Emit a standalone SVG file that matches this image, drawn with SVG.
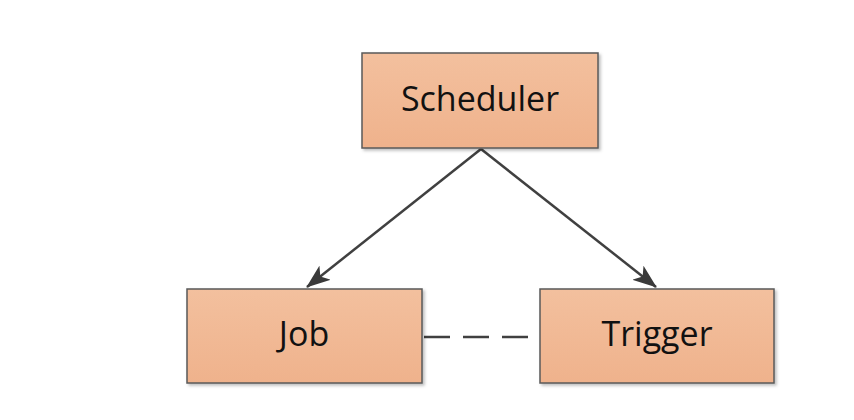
<svg xmlns="http://www.w3.org/2000/svg" width="854" height="420" viewBox="0 0 854 420">
<defs>
<linearGradient id="g" x1="0" y1="0" x2="0" y2="1">
<stop offset="0" stop-color="#F3C09E"/>
<stop offset="1" stop-color="#EFB28C"/>
</linearGradient>
<filter id="sh" x="-5%" y="-5%" width="115%" height="120%">
<feDropShadow dx="2" dy="2" stdDeviation="1.5" flood-color="#000" flood-opacity="0.25"/>
</filter>
<marker id="ah" viewBox="0 0 24 18" refX="23" refY="9" markerWidth="24" markerHeight="18" orient="auto" markerUnits="userSpaceOnUse">
<path d="M0,0 L24,9 L0,18 L6,9 z" fill="#3a3a3a"/>
</marker>
<style>
.box{fill:url(#g);stroke:#5a5a5a;stroke-width:1.5;filter:url(#sh)}
.lbl{font-family:"Open Sans","Noto Sans",sans-serif;font-size:34px;fill:#111;text-anchor:middle;dominant-baseline:central}
.con{stroke:#404040;stroke-width:2.5;fill:none}
</style>
</defs>
<rect width="854" height="420" fill="#fff"/>
<g id="connectors">
<line class="con" x1="481" y1="149" x2="307" y2="287" marker-end="url(#ah)"/>
<line class="con" x1="481" y1="149" x2="656" y2="287" marker-end="url(#ah)"/>
<line class="con" x1="424" y1="337" x2="539" y2="337" stroke-dasharray="26,13" stroke="#555"/>
</g>
<g id="scheduler">
<rect class="box" x="362" y="53" width="236" height="95"/>
<text class="lbl" x="480" y="98">Scheduler</text>
</g>
<g id="job">
<rect class="box" x="187" y="289" width="235" height="94"/>
<text class="lbl" x="304" y="333">Job</text>
</g>
<g id="trigger">
<rect class="box" x="540" y="289" width="234" height="94"/>
<text class="lbl" x="657" y="333">Trigger</text>
</g>
</svg>
